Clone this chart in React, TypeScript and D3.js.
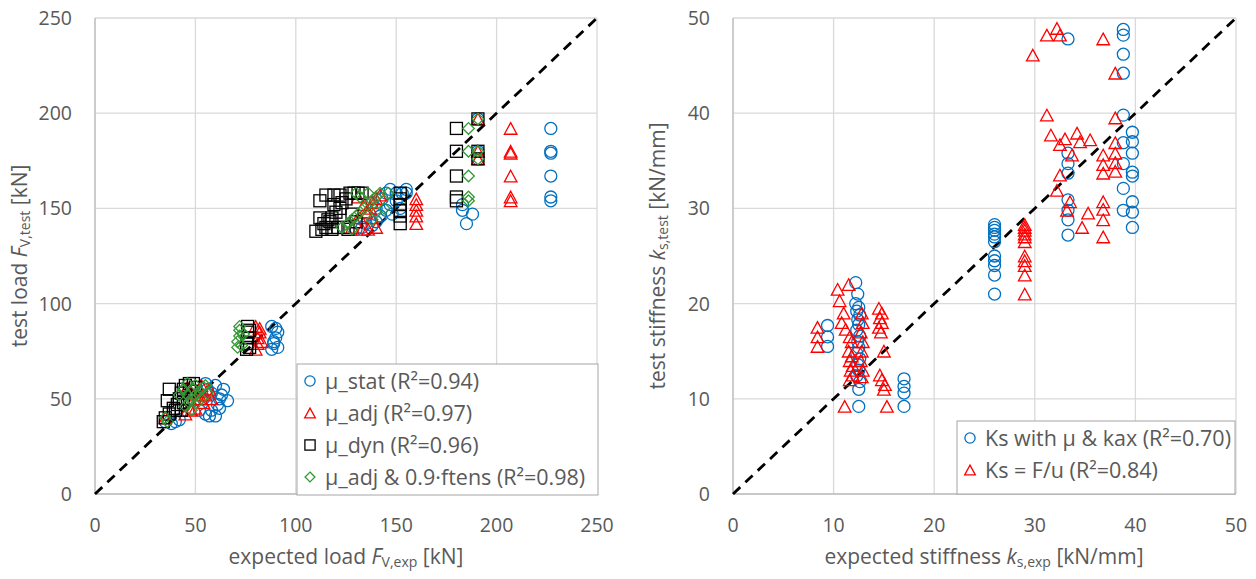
import React from 'react';
import * as d3 from 'd3';

const FONT = '"Open Sans", Lato, sans-serif';
const TXT = '#595959';
const GRID = '#d9d9d9';

const loadTicks = [0, 50, 100, 150, 200, 250];
const stiffTicks = [0, 10, 20, 30, 40, 50];

// left chart: [expected load, test load] in kN
const muStat: [number, number][] = [
  [35, 38], [38, 37], [40, 38], [42, 39], [52, 44], [55, 42], [57, 41], [58, 44], [60, 41], [61, 47],
  [62, 50], [63, 52], [64, 55], [66, 49], [58, 53], [56, 55], [60, 57], [55, 58], [54, 50], [62, 45],
  [88, 76], [89, 79], [90, 82], [91, 85], [90, 87], [88, 88], [89, 80], [91, 77],
  [130, 139], [133, 140], [135, 142], [138, 141], [140, 143], [142, 146], [145, 149], [147, 152],
  [140, 150], [143, 155], [145, 158], [150, 158], [153, 158], [138, 153], [148, 147], [152, 150],
  [155, 158], [150, 154], [147, 160], [155, 160],
  [183, 149], [185, 142], [188, 147], [183, 152],
  [190.7, 197], [190.7, 180], [190.7, 176],
  [227, 192], [227, 180], [227, 179], [227, 167], [227, 156], [227, 154],
];

const muAdj: [number, number][] = [
  [35, 40], [45, 42], [48, 44], [50, 45], [52, 50], [54, 48], [55, 52], [56, 54], [58, 50], [57, 55],
  [52, 55], [50, 52], [48, 53], [46, 56], [53, 57],
  [80, 76], [81, 79], [81, 82], [82, 85], [80, 88], [83, 80], [82, 87],
  [128, 140], [130, 143], [132, 145], [135, 148], [137, 150], [138, 153], [140, 155], [142, 157],
  [133, 139], [136, 139], [140, 140], [138, 145], [134, 152], [131, 156],
  [160, 155], [160, 152], [160, 149], [160, 146], [160, 142],
  [190.7, 197], [190.7, 180], [190.7, 176],
  [207, 192], [207, 180], [207, 179], [207, 167], [207, 156], [207, 154],
];

const muDyn: [number, number][] = [
  [34, 38], [35, 40], [37, 42], [40, 44], [41, 47], [42, 50], [43, 53], [44, 55], [45, 57], [47, 58],
  [49, 58], [50, 56], [46, 50], [48, 54], [44, 48], [39, 45], [43, 44], [36, 49], [37, 55],
  [75.5, 76], [75.5, 79], [76, 82], [76, 85], [76, 88], [77, 77], [77, 86],
  [110, 138], [113, 139], [115, 140], [117, 143], [118, 145], [120, 148], [122, 150], [123, 153],
  [125, 155], [127, 158], [129, 158], [131, 158], [133, 158], [119, 152], [116, 144], [121, 140],
  [124, 140], [126, 139], [130, 143], [128, 147], [112, 154], [115, 157], [119, 157], [122, 157],
  [114, 142], [118, 139], [112, 145],
  [152, 158], [152, 155], [152, 152], [152, 149], [152, 146], [152, 142],
  [180, 192], [180, 180], [180, 167], [180, 156], [180, 154],
  [190.7, 197], [190.7, 180], [190.7, 176],
];

const muAdjF: [number, number][] = [
  [35, 40], [36, 38], [45, 46], [47, 48], [48, 50], [50, 52], [52, 54], [54, 56], [55, 57], [50, 57],
  [46, 52], [48, 44], [53, 50], [56, 53], [51, 48], [44, 55], [49, 55], [42, 52], [46, 58],
  [71, 77], [71, 80], [72, 83], [72, 86], [72, 88], [73, 78], [74, 84],
  [123, 140], [126, 142], [128, 144], [130, 146], [132, 148], [134, 150], [136, 152], [138, 154],
  [140, 156], [142, 158], [136, 158], [130, 158], [128, 139], [140, 148], [144, 150], [138, 144],
  [132, 156], [146, 158],
  [186, 192], [186, 180], [186, 167], [186, 156], [186, 154],
  [190.7, 197], [190.7, 180], [190.7, 176],
];

// right chart: [expected stiffness, test stiffness] in kN/mm
const ksMuKax: [number, number][] = [
  [9.4, 17.7], [9.4, 16.5], [9.4, 15.5],
  [12.2, 22.2], [12.4, 21], [12.2, 20], [12.5, 19.6], [12.3, 19.2], [12.6, 18.8], [12.4, 18.3],
  [12.5, 17.8], [12.3, 17.2], [12.6, 16.6], [12.4, 16], [12.5, 15.4], [12.3, 14.8], [12.6, 14.2],
  [12.4, 13.6], [12.5, 13], [12.3, 12.4], [12.6, 11.8], [12.5, 11], [12.5, 9.2],
  [17, 12.1], [17, 11.3], [17, 10.6], [17, 9.2],
  [26, 28.3], [26, 28], [26, 27.7], [26, 27.3], [26, 27], [26, 26.5], [26, 25], [26, 24.5],
  [26, 24], [26, 23], [26, 21],
  [33.3, 47.8], [33.3, 35.8], [33.3, 34.7], [33.3, 33.7], [33.3, 30.9], [33.3, 29.8], [33.3, 28.8], [33.3, 27.2],
  [38.8, 48.8], [38.8, 48.2], [38.8, 46.2], [38.8, 44.2], [38.8, 39.8], [38.8, 36.9], [38.8, 34.7],
  [38.8, 32.1], [38.8, 29.8],
  [39.7, 38], [39.7, 37], [39.7, 35.8], [39.7, 33.8], [39.7, 33.4], [39.7, 30.7], [39.7, 29.6], [39.7, 28],
];

const ksFu: [number, number][] = [
  [8.4, 17.5], [8.4, 16.5], [8.4, 15.5],
  [10.4, 21.5], [10.6, 20.3], [11, 19], [10.8, 18], [11.2, 17.3], [11.5, 22], [11.6, 16.5],
  [11.8, 16], [11.5, 15], [11.8, 14.5], [11.6, 14], [11.9, 13.5], [11.7, 13], [11.9, 12.5],
  [11.6, 12], [11.1, 9.2], [12.8, 19], [12.9, 18], [12.7, 17], [12.9, 16], [12.8, 15], [12.7, 14],
  [12.9, 13], [12.8, 12.3],
  [14.5, 19.5], [14.8, 19], [14.6, 18.5], [14.8, 18], [14.5, 17.5], [14.7, 17], [15, 15],
  [14.6, 12.5], [14.8, 12], [15.1, 11.5], [15, 11], [15.3, 9.2],
  [29, 28.3], [29, 28], [29, 27.7], [29, 27.3], [29, 27], [29, 26.5], [29, 25], [29, 24.5],
  [29, 24], [29, 23], [29, 21],
  [29.8, 46.1], [31.2, 48.2], [32.2, 48.9], [32.5, 48.2], [31.2, 39.8], [31.6, 37.7], [33, 37.3],
  [32.5, 36.7], [34.2, 37.9], [34.5, 37], [35.5, 37.2], [33.7, 35.6], [32.5, 33.5], [32.2, 31.9],
  [33.5, 30.7], [33.2, 29.8], [35.3, 29.5], [34.7, 28],
  [36.8, 47.8], [36.8, 35.6], [36.8, 34.6], [36.8, 33.7], [36.8, 30.7], [36.8, 29.9], [36.8, 28.8], [36.8, 27],
  [38, 44.2], [38, 39.5], [38, 36.9], [38, 35.8], [38, 34.8], [38, 33.9],
];

type Shape = 'circle' | 'triangle' | 'square' | 'diamond';

const Marker = ({ shape, x, y, color, k = 1 }: { shape: Shape; x: number; y: number; color: string; k?: number }) => {
  const sw = 1.3;
  if (shape === 'circle') return <circle cx={x} cy={y} r={6 * k} fill="none" stroke={color} strokeWidth={sw} />;
  if (shape === 'square')
    return <rect x={x - 6 * k} y={y - 6 * k} width={12 * k} height={12 * k} fill="none" stroke={color} strokeWidth={sw} />;
  const h = 5.8 * k;
  if (shape === 'diamond')
    return <path d={`M${x},${y - h}L${x + h},${y}L${x},${y + h}L${x - h},${y}Z`} fill="none" stroke={color} strokeWidth={sw} />;
  return <path d={`M${x},${y - h}L${x + 6.3 * k},${y + h}L${x - 6.3 * k},${y + h}Z`} fill="none" stroke={color} strokeWidth={sw} />;
};

interface Series { data: [number, number][]; shape: Shape; color: string; label: React.ReactNode }

interface PanelProps {
  left: number; right: number; top: number; bottom: number;
  max: number; ticks: number[];
  series: Series[];
  xTitle: React.ReactNode; yTitle: React.ReactNode;
  xTitleX: number; yTitleX: number;
  legend: { x: number; y: number; w: number; h: number };
}

const Panel = (p: PanelProps) => {
  const x = d3.scaleLinear().domain([0, p.max]).range([p.left, p.right]);
  const y = d3.scaleLinear().domain([0, p.max]).range([p.bottom, p.top]);
  const lg = p.legend;
  return (
    <g fontFamily={FONT}>
      {p.ticks.map(t => (
        <g key={'g' + t}>
          <line x1={x(t)} x2={x(t)} y1={p.top} y2={p.bottom} stroke={GRID} strokeWidth={1.3} />
          <line x1={p.left} x2={p.right} y1={y(t)} y2={y(t)} stroke={GRID} strokeWidth={1.3} />
          <text x={p.left - 23} y={y(t) + 7} textAnchor="end" fontSize={19.5} fill={TXT}>{t}</text>
          <text x={x(t)} y={532} textAnchor="middle" fontSize={19.5} fill={TXT}>{t}</text>
        </g>
      ))}
      <line x1={p.left} x2={p.left} y1={p.top} y2={p.bottom} stroke="#bfbfbf" strokeWidth={1.3} />
      <line x1={p.left} x2={p.right} y1={p.bottom} y2={p.bottom} stroke="#bfbfbf" strokeWidth={1.3} />
      <line x1={x(0)} y1={y(0)} x2={x(p.max)} y2={y(p.max)} stroke="#000" strokeWidth={2.8} strokeDasharray="10,7" />
      {p.series.map((s, i) => (
        <g key={'s' + i}>
          {s.data.map((d, j) => <Marker key={j} shape={s.shape} x={x(d[0])} y={y(d[1])} color={s.color} />)}
        </g>
      ))}
      <rect x={lg.x} y={lg.y} width={lg.w} height={lg.h} fill="#fff" stroke="#a6a6a6" strokeWidth={1} />
      {p.series.map((s, i) => (
        <g key={'l' + i}>
          <Marker shape={s.shape} x={lg.x + 13} y={lg.y + 17 + i * 32} color={s.color} k={0.85} />
          <text x={lg.x + 28} y={lg.y + 24.5 + i * 32} fontSize={21.5} fill={TXT}>{s.label}</text>
        </g>
      ))}
      <text x={p.xTitleX} y={564} textAnchor="middle" fontSize={21} fill={TXT}>{p.xTitle}</text>
      <text transform={`translate(${p.yTitleX},${(p.top + p.bottom) / 2}) rotate(-90)`} textAnchor="middle" fontSize={21} fill={TXT}>
        {p.yTitle}
      </text>
    </g>
  );
};

const sub = (main: string, s: string) => [
  <tspan key="m" fontStyle="italic">{main}</tspan>,
  <tspan key="s" fontSize={14} dy={3}>{s}</tspan>,
  <tspan key="r" dy={-3}> </tspan>,
];

const App = () => (
  <svg width={1256} height={579} style={{ position: 'absolute', left: 0, top: 0, background: '#fff' }}>
    <Panel
      left={95} right={597} top={18} bottom={494} max={250} ticks={loadTicks}
      series={[
        { data: muStat, shape: 'circle', color: '#0070c0', label: 'μ_stat (R²=0.94)' },
        { data: muAdj, shape: 'triangle', color: '#ff0000', label: 'μ_adj (R²=0.97)' },
        { data: muDyn, shape: 'square', color: '#000000', label: 'μ_dyn (R²=0.96)' },
        { data: muAdjF, shape: 'diamond', color: '#339933', label: 'μ_adj & 0.9·ftens (R²=0.98)' },
      ]}
      xTitle={<>expected load {sub('F', 'V,exp')}[kN]</>}
      yTitle={<>test load {sub('F', 'V,test')}[kN]</>}
      xTitleX={346} yTitleX={27}
      legend={{ x: 297, y: 364, w: 301, h: 131 }}
    />
    <Panel
      left={733} right={1236} top={18} bottom={494} max={50} ticks={stiffTicks}
      series={[
        { data: ksMuKax, shape: 'circle', color: '#0070c0', label: 'Ks with μ & kax (R²=0.70)' },
        { data: ksFu, shape: 'triangle', color: '#ff0000', label: 'Ks = F/u (R²=0.84)' },
      ]}
      xTitle={<>expected stiffness {sub('k', 's,exp')}[kN/mm]</>}
      yTitle={<>test stiffness {sub('k', 's,test')}[kN/mm]</>}
      xTitleX={984} yTitleX={665}
      legend={{ x: 957, y: 421, w: 278, h: 73 }}
    />
  </svg>
);

export default App;
